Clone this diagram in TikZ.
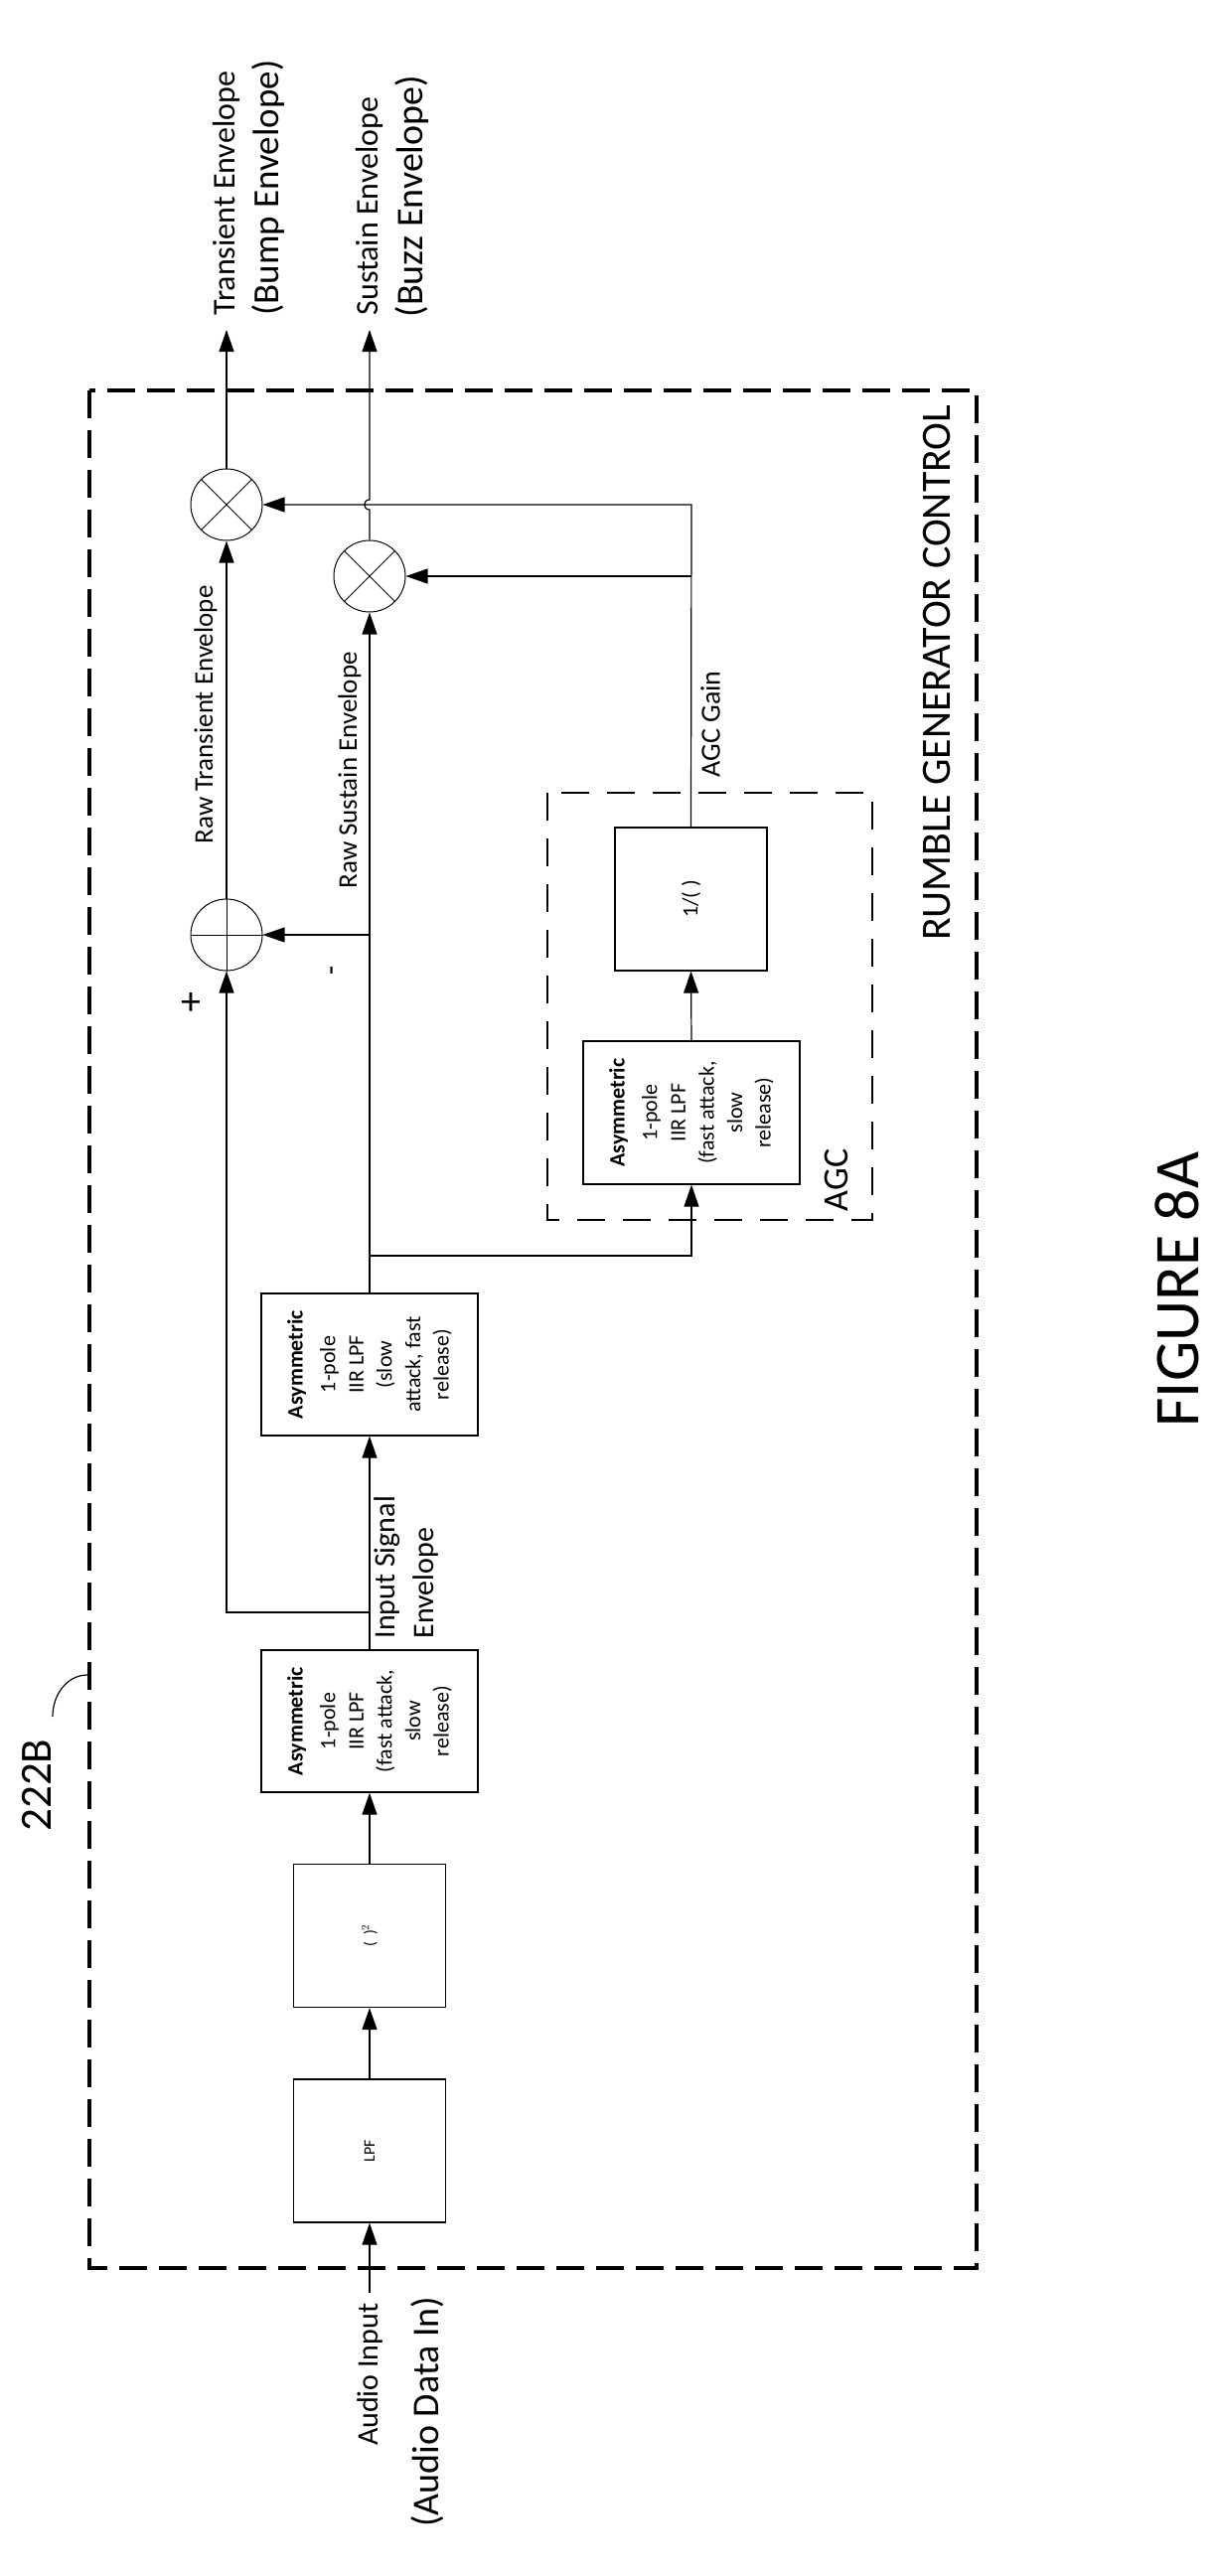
\documentclass[tikz,border=0pt]{standalone}
\usepackage{fontspec}
\setmainfont{Carlito}
\usetikzlibrary{arrows.meta}
\newcommand{\fs}[1]{\fontsize{#1}{#1}\selectfont}
\begin{document}
\begin{tikzpicture}[x=1pt,y=-1pt,line width=1.2pt,
  arr/.style={-{Triangle[length=22pt,width=15pt]}},
  blk/.style={draw,rotate=90,minimum width=143pt,minimum height=218pt,inner sep=2pt,align=center,font=\fs{22}\linespread{1.3}\selectfont},
  sblk/.style={draw,rotate=90,minimum width=144pt,minimum height=153pt,inner sep=0pt},
  circ/.style={draw,circle,minimum size=72pt,inner sep=0pt,line width=1pt},
  outer/.style={line width=3.5pt,dash pattern=on 28pt off 12pt},
  agcbox/.style={line width=2.2pt,dash pattern=on 28pt off 18pt},
  lbl/.style={rotate=90,inner sep=0pt}]
\useasboundingbox (0,0) rectangle (1227,2593);
% frames
\draw[outer] (90,393) rectangle (983,2283);
\draw[agcbox] (551,798) rectangle (878,1228);
% blocks
\node[sblk] (lpf) at (372,2165) {\fs{16}LPF};
\node[sblk] (sq) at (372,1948.5) {\fs{16}(\ \ )$^2$};
\node[blk] (f1) at (372,1732.5) {\textbf{Asymmetric}\\[4pt]1-pole\\IIR LPF\\(fast attack,\\slow\\release)};
\node[blk] (f2) at (372,1373.5) {\textbf{Asymmetric}\\[4pt]1-pole\\IIR LPF\\(slow\\attack, fast\\release)};
\node[blk,minimum width=144pt] (f3) at (696,1120) {\textbf{Asymmetric}\\[4pt]1-pole\\IIR LPF\\(fast attack,\\slow\\release)};
\node[sblk] (inv) at (695.5,905) {\fs{22}1/( )};
% circles
\node[circ] (sum) at (228,941) {};
\draw[line width=1pt] (sum.north)--(sum.south) (sum.west)--(sum.east);
\node[circ] (mt) at (228,508) {};
\draw[line width=1pt] (mt.45)--(mt.225) (mt.135)--(mt.315);
\node[circ] (ms) at (372,580) {};
\draw[line width=1pt] (ms.45)--(ms.225) (ms.135)--(ms.315);
% coordinates
\coordinate (ain) at (372,2308);
\coordinate (bt) at (372,1623);
\coordinate (btl) at (228,1623);
\coordinate (bs) at (372,941);
\coordinate (ba) at (372,1264);
\coordinate (bar) at (696,1264);
\coordinate (gt) at (696,508);
\coordinate (gs) at (696,580);
\coordinate (j1) at (372,513);
\coordinate (j2) at (372,503);
\coordinate (ot) at (228,332);
\coordinate (os) at (372,332);
% connectors
\draw[arr] (ain) -- (lpf.west);
\draw[arr] (lpf.east) -- (sq.west);
\draw[arr] (sq.east) -- (f1.west);
\draw[arr] (f1.east) -- (f2.west);
\draw[arr] (bt) -- (btl) -- (sum.south);
\draw[arr] (f2.east) -- (ms.south);
\draw[arr] (bs) -- (sum.east);
\draw[arr] (ba) -- (bar) -- (f3.west);
\draw[arr] (f3.east) -- (inv.west);
\draw[arr] (inv.east) -- (gt) -- (mt.east);
\draw[arr] (gs) -- (ms.east);
\draw[arr] (sum.north) -- (mt.south);
\draw[arr] (mt.north) -- (ot);
\draw[arr] (ms.north) -- (j1) .. controls (365,513) and (365,503) .. (j2) -- (os);
% labels
\node[lbl,anchor=west,font=\fs{32}] at (228,318) {Transient Envelope};
\node[lbl,anchor=west,font=\fs{37}] at (270,318) {(Bump Envelope)};
\node[lbl,anchor=west,font=\fs{32}] at (372,318) {Sustain Envelope};
\node[lbl,anchor=west,font=\fs{38}] at (415,320) {(Buzz Envelope)};
\node[lbl,anchor=west,font=\fs{27}] at (207,850) {Raw Transient Envelope};
\node[lbl,anchor=west,font=\fs{27}] at (352,895) {Raw Sustain Envelope};
\node[lbl,anchor=west,font=\fs{28}] at (715,783) {AGC Gain};
\node[lbl,anchor=north west,align=left,font=\fs{30}\linespread{1.3}\selectfont] at (376,1650) {Input Signal\\Envelope};
\node[lbl,anchor=east,font=\fs{30}] at (372,2318) {Audio Input};
\node[lbl,anchor=east,font=\fs{38}] at (430,2311) {(Audio Data In)};
\node[lbl,font=\fs{36}] at (842,1188) {AGC};
\node[lbl,anchor=east,font=\fs{42}] at (943,407) {RUMBLE GENERATOR CONTROL};
\node[lbl,font=\fs{64}] at (1185,1298) {FIGURE 8A};
\node[lbl,font=\fs{45}] (num) at (37,1797) {222B};
\node[font=\fs{40}] at (192,1010) {+};
\node[lbl,font=\fs{30}] at (338,977) {-};
\coordinate (lead) at (53,1728);
\coordinate (leadend) at (88,1686);
\draw[line width=1.2pt] (lead) .. controls (53,1705) and (68,1686) .. (leadend);
\end{tikzpicture}
\end{document}
